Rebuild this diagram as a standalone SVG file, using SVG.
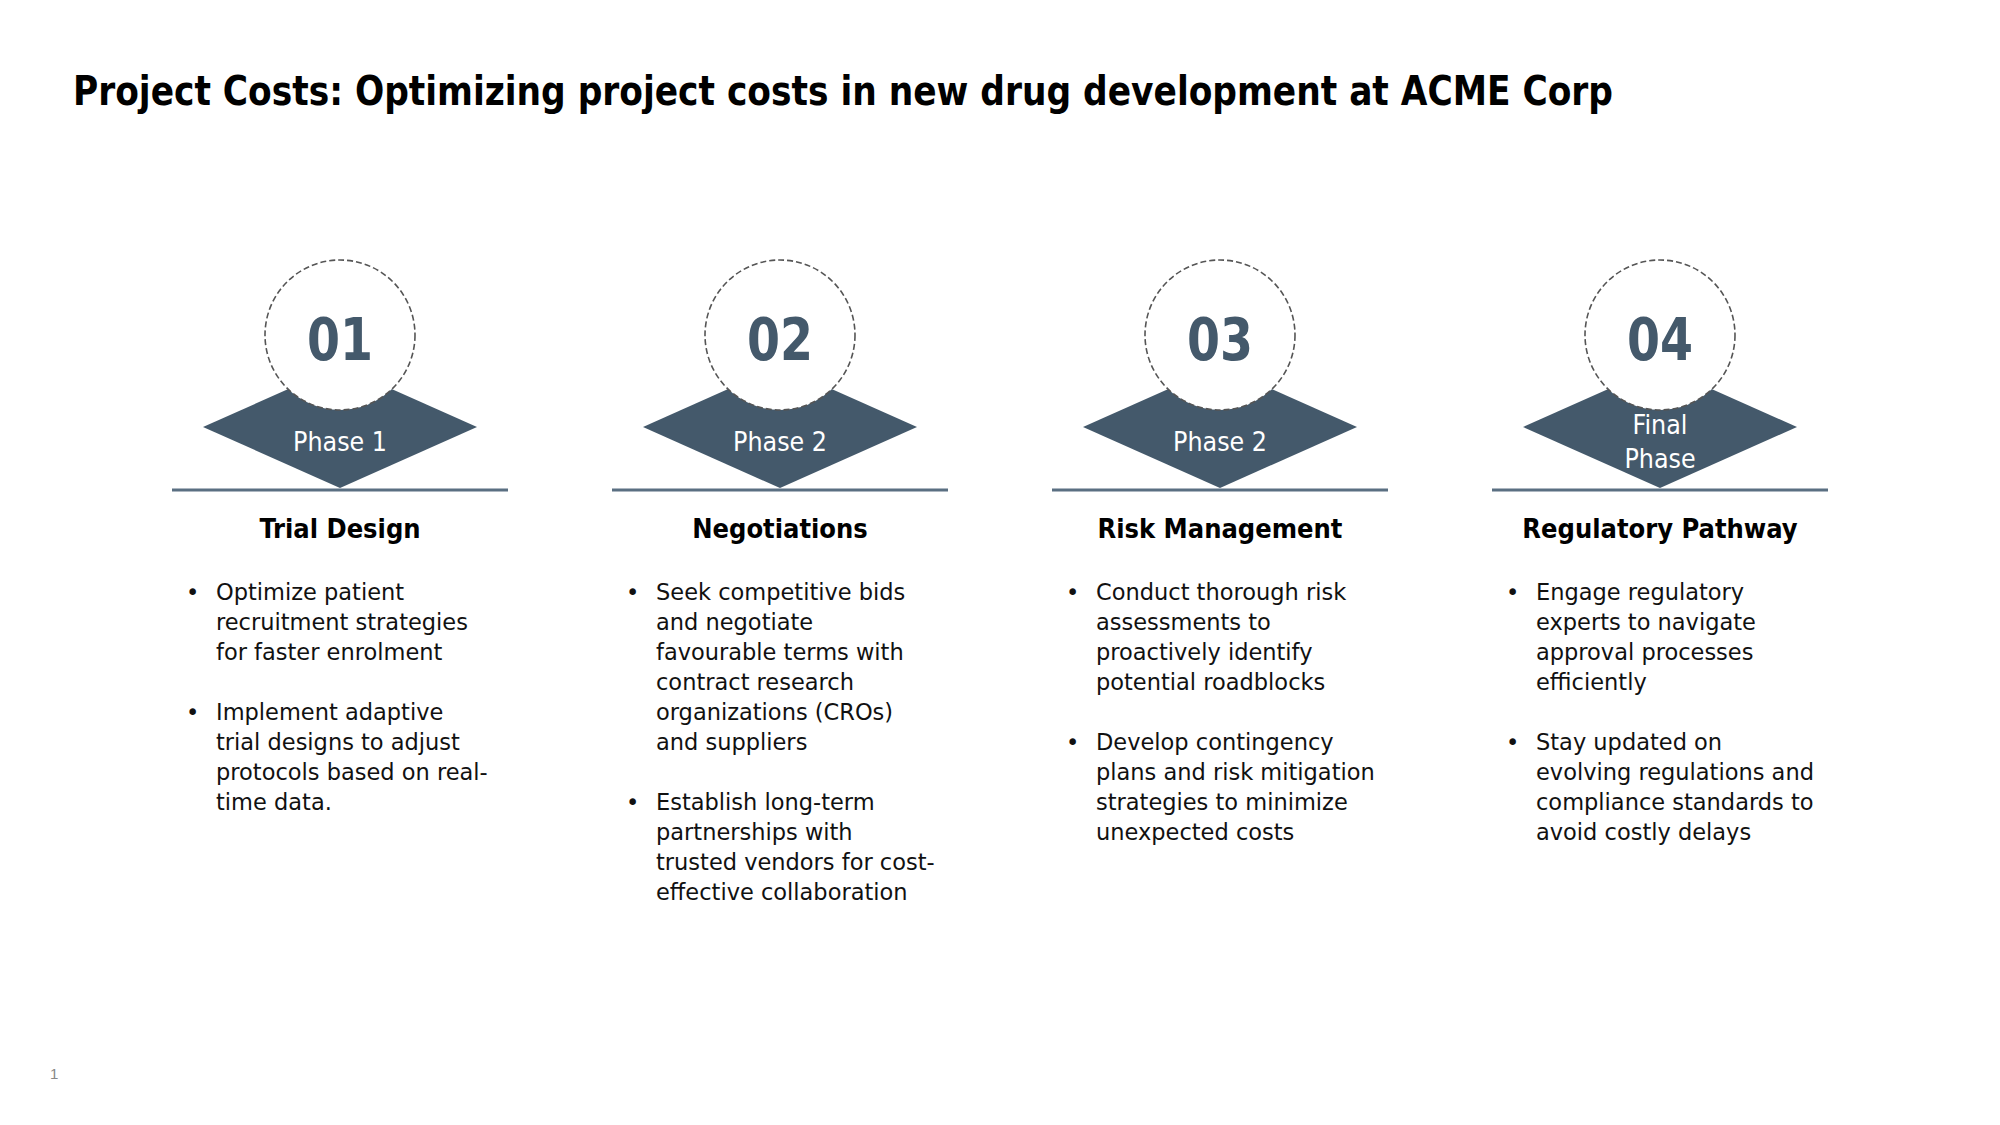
<svg xmlns="http://www.w3.org/2000/svg" width="2000" height="1125" viewBox="0 0 2000 1125">
<style>
.title{font-family:"DejaVu Sans Condensed","DejaVu Sans",sans-serif;font-weight:bold;font-size:41px;fill:#000}
.num{font-family:"DejaVu Sans Condensed","DejaVu Sans",sans-serif;font-weight:bold;font-size:58px;fill:#44596b;text-anchor:middle}
.phase{font-family:"DejaVu Sans Condensed","DejaVu Sans",sans-serif;font-size:26.5px;fill:#fff;text-anchor:middle}
.head{font-family:"DejaVu Sans Condensed","DejaVu Sans",sans-serif;font-weight:bold;font-size:27px;fill:#000;text-anchor:middle}
.body{font-family:"DejaVu Sans",sans-serif;font-size:22.5px;fill:#111}
.circ{fill:#fff;stroke:#555;stroke-width:1.6;stroke-dasharray:6 3}
.dia{fill:#44596b}
.base{stroke:#5a6f82;stroke-width:3}
.pg{font-family:"Liberation Sans",sans-serif;font-size:15px;fill:#888}
</style>
<text class="title" x="73" y="105" textLength="1540" lengthAdjust="spacingAndGlyphs">Project Costs: Optimizing project costs in new drug development at ACME Corp</text>

<g id="node1">
<polygon class="dia" points="340,366 477,427 340,488 203,427"/>
<circle class="circ" cx="340" cy="335" r="75"/>
<text class="num" x="340" y="360" textLength="66" lengthAdjust="spacingAndGlyphs">01</text>
<text class="phase" x="340" y="451">Phase 1</text>
<line class="base" x1="172" y1="490" x2="508" y2="490"/>
<text class="head" x="340" y="538">Trial Design</text>
<g class="body">
<text x="186" y="600">•</text>
<text x="216" y="600">Optimize patient</text>
<text x="216" y="630">recruitment strategies</text>
<text x="216" y="660">for faster enrolment</text>
<text x="186" y="720">•</text>
<text x="216" y="720">Implement adaptive</text>
<text x="216" y="750">trial designs to adjust</text>
<text x="216" y="780">protocols based on real-</text>
<text x="216" y="810">time data.</text>
</g>
</g>

<g id="node2">
<polygon class="dia" points="780,366 917,427 780,488 643,427"/>
<circle class="circ" cx="780" cy="335" r="75"/>
<text class="num" x="780" y="360" textLength="66" lengthAdjust="spacingAndGlyphs">02</text>
<text class="phase" x="780" y="451">Phase 2</text>
<line class="base" x1="612" y1="490" x2="948" y2="490"/>
<text class="head" x="780" y="538">Negotiations</text>
<g class="body">
<text x="626" y="600">•</text>
<text x="656" y="600">Seek competitive bids</text>
<text x="656" y="630">and negotiate</text>
<text x="656" y="660">favourable terms with</text>
<text x="656" y="690">contract research</text>
<text x="656" y="720">organizations (CROs)</text>
<text x="656" y="750">and suppliers</text>
<text x="626" y="810">•</text>
<text x="656" y="810">Establish long-term</text>
<text x="656" y="840">partnerships with</text>
<text x="656" y="870">trusted vendors for cost-</text>
<text x="656" y="900">effective collaboration</text>
</g>
</g>

<g id="node3">
<polygon class="dia" points="1220,366 1357,427 1220,488 1083,427"/>
<circle class="circ" cx="1220" cy="335" r="75"/>
<text class="num" x="1220" y="360" textLength="66" lengthAdjust="spacingAndGlyphs">03</text>
<text class="phase" x="1220" y="451">Phase 2</text>
<line class="base" x1="1052" y1="490" x2="1388" y2="490"/>
<text class="head" x="1220" y="538">Risk Management</text>
<g class="body">
<text x="1066" y="600">•</text>
<text x="1096" y="600">Conduct thorough risk</text>
<text x="1096" y="630">assessments to</text>
<text x="1096" y="660">proactively identify</text>
<text x="1096" y="690">potential roadblocks</text>
<text x="1066" y="750">•</text>
<text x="1096" y="750">Develop contingency</text>
<text x="1096" y="780">plans and risk mitigation</text>
<text x="1096" y="810">strategies to minimize</text>
<text x="1096" y="840">unexpected costs</text>
</g>
</g>

<g id="node4">
<polygon class="dia" points="1660,366 1797,427 1660,488 1523,427"/>
<circle class="circ" cx="1660" cy="335" r="75"/>
<text class="num" x="1660" y="360" textLength="66" lengthAdjust="spacingAndGlyphs">04</text>
<text class="phase" x="1660" y="434">Final</text>
<text class="phase" x="1660" y="468">Phase</text>
<line class="base" x1="1492" y1="490" x2="1828" y2="490"/>
<text class="head" x="1660" y="538">Regulatory Pathway</text>
<g class="body">
<text x="1506" y="600">•</text>
<text x="1536" y="600">Engage regulatory</text>
<text x="1536" y="630">experts to navigate</text>
<text x="1536" y="660">approval processes</text>
<text x="1536" y="690">efficiently</text>
<text x="1506" y="750">•</text>
<text x="1536" y="750">Stay updated on</text>
<text x="1536" y="780">evolving regulations and</text>
<text x="1536" y="810">compliance standards to</text>
<text x="1536" y="840">avoid costly delays</text>
</g>
</g>

<g id="connectors"></g>
<text class="pg" x="50" y="1079">1</text>
</svg>
